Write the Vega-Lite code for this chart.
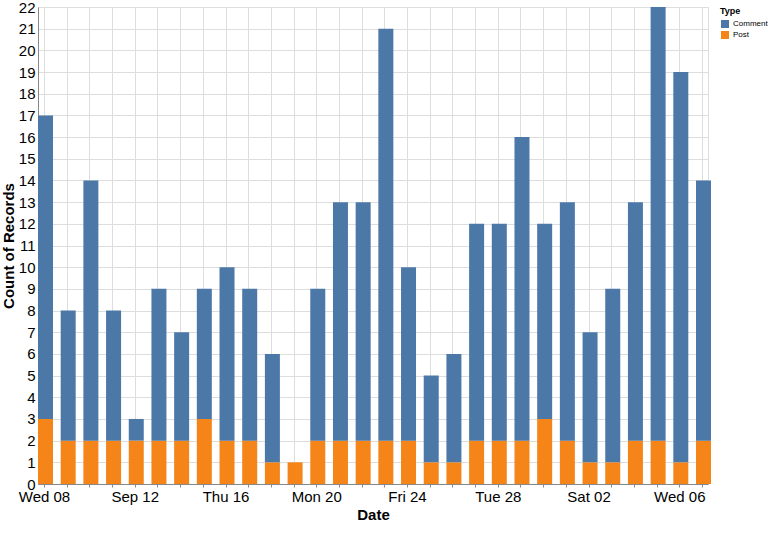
{
  "$schema": "https://vega.github.io/schema/vega-lite/v6.json",
  "width": 670,
  "height": 477,
  "padding": {"left": 1, "top": 0, "right": 0, "bottom": 5},
  "data": {
    "values": [
      {"date": "2021-09-08", "Type": "Post", "count": 3}, {"date": "2021-09-08", "Type": "Comment", "count": 14},
      {"date": "2021-09-09", "Type": "Post", "count": 2}, {"date": "2021-09-09", "Type": "Comment", "count": 6},
      {"date": "2021-09-10", "Type": "Post", "count": 2}, {"date": "2021-09-10", "Type": "Comment", "count": 12},
      {"date": "2021-09-11", "Type": "Post", "count": 2}, {"date": "2021-09-11", "Type": "Comment", "count": 6},
      {"date": "2021-09-12", "Type": "Post", "count": 2}, {"date": "2021-09-12", "Type": "Comment", "count": 1},
      {"date": "2021-09-13", "Type": "Post", "count": 2}, {"date": "2021-09-13", "Type": "Comment", "count": 7},
      {"date": "2021-09-14", "Type": "Post", "count": 2}, {"date": "2021-09-14", "Type": "Comment", "count": 5},
      {"date": "2021-09-15", "Type": "Post", "count": 3}, {"date": "2021-09-15", "Type": "Comment", "count": 6},
      {"date": "2021-09-16", "Type": "Post", "count": 2}, {"date": "2021-09-16", "Type": "Comment", "count": 8},
      {"date": "2021-09-17", "Type": "Post", "count": 2}, {"date": "2021-09-17", "Type": "Comment", "count": 7},
      {"date": "2021-09-18", "Type": "Post", "count": 1}, {"date": "2021-09-18", "Type": "Comment", "count": 5},
      {"date": "2021-09-19", "Type": "Post", "count": 1},
      {"date": "2021-09-20", "Type": "Post", "count": 2}, {"date": "2021-09-20", "Type": "Comment", "count": 7},
      {"date": "2021-09-21", "Type": "Post", "count": 2}, {"date": "2021-09-21", "Type": "Comment", "count": 11},
      {"date": "2021-09-22", "Type": "Post", "count": 2}, {"date": "2021-09-22", "Type": "Comment", "count": 11},
      {"date": "2021-09-23", "Type": "Post", "count": 2}, {"date": "2021-09-23", "Type": "Comment", "count": 19},
      {"date": "2021-09-24", "Type": "Post", "count": 2}, {"date": "2021-09-24", "Type": "Comment", "count": 8},
      {"date": "2021-09-25", "Type": "Post", "count": 1}, {"date": "2021-09-25", "Type": "Comment", "count": 4},
      {"date": "2021-09-26", "Type": "Post", "count": 1}, {"date": "2021-09-26", "Type": "Comment", "count": 5},
      {"date": "2021-09-27", "Type": "Post", "count": 2}, {"date": "2021-09-27", "Type": "Comment", "count": 10},
      {"date": "2021-09-28", "Type": "Post", "count": 2}, {"date": "2021-09-28", "Type": "Comment", "count": 10},
      {"date": "2021-09-29", "Type": "Post", "count": 2}, {"date": "2021-09-29", "Type": "Comment", "count": 14},
      {"date": "2021-09-30", "Type": "Post", "count": 3}, {"date": "2021-09-30", "Type": "Comment", "count": 9},
      {"date": "2021-10-01", "Type": "Post", "count": 2}, {"date": "2021-10-01", "Type": "Comment", "count": 11},
      {"date": "2021-10-02", "Type": "Post", "count": 1}, {"date": "2021-10-02", "Type": "Comment", "count": 6},
      {"date": "2021-10-03", "Type": "Post", "count": 1}, {"date": "2021-10-03", "Type": "Comment", "count": 8},
      {"date": "2021-10-04", "Type": "Post", "count": 2}, {"date": "2021-10-04", "Type": "Comment", "count": 11},
      {"date": "2021-10-05", "Type": "Post", "count": 2}, {"date": "2021-10-05", "Type": "Comment", "count": 20},
      {"date": "2021-10-06", "Type": "Post", "count": 1}, {"date": "2021-10-06", "Type": "Comment", "count": 18},
      {"date": "2021-10-07", "Type": "Post", "count": 2}, {"date": "2021-10-07", "Type": "Comment", "count": 12}
    ]
  },
  "mark": {"type": "bar", "width": 15, "xOffset": 1.5},
  "encoding": {
    "x": {
      "field": "date",
      "type": "temporal",
      "title": "Date",
      "scale": {"type": "utc", "padding": 6},
      "axis": {
        "tickCount": {"interval": "day", "step": 1},
        "tickSize": 3,
        "labelPadding": 2,
        "labelFontSize": 15,
        "titleFontSize": 15,
        "titlePadding": 3
      }
    },
    "y": {
      "field": "count",
      "type": "quantitative",
      "aggregate": "sum",
      "title": "Count of Records",
      "scale": {"domain": [0, 22]},
      "axis": {"tickCount": 22, "ticks": false, "labelPadding": 3, "labelFontSize": 15, "titleFontSize": 15, "titlePadding": 2}
    },
    "color": {
      "field": "Type",
      "type": "nominal",
      "legend": {
        "offset": 12,
        "titleFontSize": 9,
        "labelFontSize": 8,
        "labelOffset": 3,
        "symbolType": "square",
        "symbolSize": 64,
        "rowPadding": 2,
        "titlePadding": 3
      }
    },
    "order": {"field": "Type", "sort": "descending"}
  },
  "config": {"font": "Liberation Sans"}
}
